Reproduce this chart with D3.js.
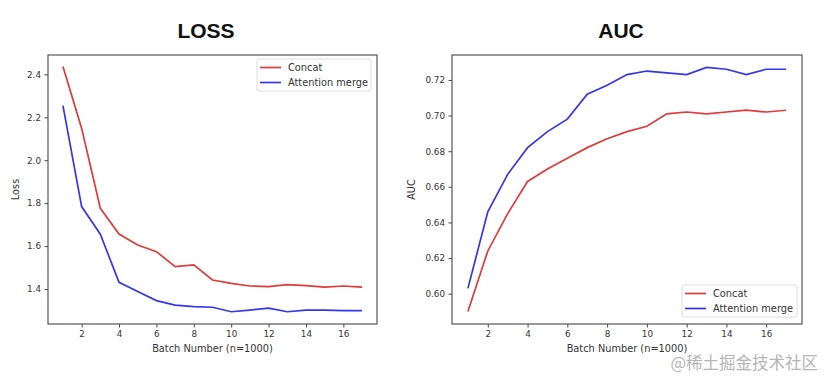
<!DOCTYPE html>
<meta charset="utf-8">
<body style="margin:0;background:#fff">
<script src="https://d3js.org/d3.v7.min.js"></script>
<script>

var W = 832, H = 386;

// data
var batches = d3.range(1, 18);
var lossConcat = [2.436, 2.148, 1.776, 1.656, 1.605, 1.574, 1.504, 1.512, 1.442, 1.426, 1.414, 1.411, 1.420, 1.416, 1.409, 1.414, 1.409];
var lossAttn   = [2.254, 1.784, 1.655, 1.431, 1.388, 1.346, 1.325, 1.318, 1.315, 1.294, 1.302, 1.311, 1.294, 1.302, 1.302, 1.299, 1.299];
var aucConcat  = [0.590, 0.624, 0.645, 0.663, 0.670, 0.676, 0.682, 0.687, 0.691, 0.694, 0.701, 0.702, 0.701, 0.702, 0.703, 0.702, 0.703];
var aucAttn    = [0.603, 0.646, 0.667, 0.682, 0.691, 0.698, 0.712, 0.717, 0.723, 0.725, 0.724, 0.723, 0.727, 0.726, 0.723, 0.726, 0.726];
var seriesNames = ['Concat', 'Attention merge'];
var xTicks = [2, 4, 6, 8, 10, 12, 14, 16];
var lossTicks = [1.4, 1.6, 1.8, 2.0, 2.2, 2.4];
var aucTicks = [0.60, 0.62, 0.64, 0.66, 0.68, 0.70, 0.72];

var RED = '#e03a3a', BLUE = '#3535ee';
var FONT = 'DejaVu Sans, sans-serif';

var svg = d3.select('body').append('svg')
    .attr('width', W)
    .attr('height', H);

var panel = (p) => {
  var g = svg.append('g');
  var x = d3.scaleLinear().domain([0.2, 17.8]).range([p.x0, p.x1]);
  var y = d3.scaleLinear().domain(p.ydom).range([p.y1, p.y0]);

  // title
  g.append('text')
    .text(p.title)
    .attr('x', p.tx).attr('y', 38)
    .attr('text-anchor', 'middle')
    .attr('font-family', 'Liberation Sans, Arial, sans-serif')
    .attr('font-weight', 'bold')
    .attr('font-size', 21)
    .attr('fill', '#111');

  var ax = g.append('g')
    .attr('transform', `translate(0,${p.y1})`)
    .call(d3.axisBottom(x).tickValues(xTicks).tickSize(3.5).tickPadding(3).tickFormat(d3.format('d')));
  var ay = g.append('g')
    .attr('transform', `translate(${p.x0},0)`)
    .call(d3.axisLeft(y).tickValues(p.yticks).tickSize(3.5).tickPadding(3.5).tickFormat(d3.format(p.yfmt)));
  [ax, ay].forEach(a => {
    a.select('.domain').remove();
    a.selectAll('line').attr('stroke', '#444');
    a.selectAll('text').attr('font-family', FONT).attr('font-size', 8.8).attr('fill', '#333');
  });

  var line = d3.line().x((d, i) => x(batches[i])).y(d => y(d));
  [[p.s1, RED], [p.s2, BLUE]].forEach(s => {
    g.append('path')
      .attr('d', line(s[0]))
      .attr('fill', 'none')
      .attr('stroke', s[1])
      .attr('stroke-width', 1.7);
  });

  // frame
  g.append('rect')
    .attr('x', p.x0).attr('y', p.y0)
    .attr('width', p.x1 - p.x0).attr('height', p.y1 - p.y0)
    .attr('fill', 'none')
    .attr('stroke', '#555')
    .attr('stroke-width', 1.2);

  g.append('text')
    .text('Batch Number (n=1000)')
    .attr('x', (p.x0 + p.x1) / 2).attr('y', 352)
    .attr('text-anchor', 'middle')
    .attr('font-family', FONT).attr('font-size', 9.8).attr('fill', '#333');
  g.append('text')
    .text(p.ylabel)
    .attr('transform', `translate(${p.lx},${(p.y0 + p.y1) / 2}) rotate(-90)`)
    .attr('text-anchor', 'middle')
    .attr('font-family', FONT).attr('font-size', 9.8).attr('fill', '#333');

  // legend
  var lg = g.append('g').attr('transform', `translate(${p.legx},${p.legy})`);
  lg.append('rect')
    .attr('width', p.legw).attr('height', 32)
    .attr('rx', 2)
    .attr('fill', '#fff').attr('fill-opacity', 0.8)
    .attr('stroke', '#ddd');
  seriesNames.forEach((n, i) => {
    lg.append('line')
      .attr('x1', 3).attr('x2', 24)
      .attr('y1', 8.5 + i * 15).attr('y2', 8.5 + i * 15)
      .attr('stroke', i ? BLUE : RED).attr('stroke-width', 1.7);
    lg.append('text')
      .text(n)
      .attr('x', 31).attr('y', 12 + i * 15)
      .attr('font-family', FONT).attr('font-size', 9.8).attr('fill', '#333');
  });
}

panel({
  title: 'LOSS', tx: 206, x0: 48, x1: 377, y0: 55, y1: 324,
  ydom: [1.237, 2.49], yticks: lossTicks, yfmt: '.1f', ylabel: 'Loss', lx: 19,
  s1: lossConcat, s2: lossAttn, legx: 257, legy: 59, legw: 114
});
panel({
  title: 'AUC', tx: 621, x0: 452, x1: 802, y0: 55, y1: 324,
  ydom: [0.583, 0.734], yticks: aucTicks, yfmt: '.2f', ylabel: 'AUC', lx: 415,
  s1: aucConcat, s2: aucAttn, legx: 682, legy: 285, legw: 115
});

// watermark
svg.append('text')
  .text('@稀土掘金技术社区')
  .attr('x', 818).attr('y', 369)
  .attr('text-anchor', 'end')
  .attr('font-family', 'Noto Sans CJK SC, sans-serif')
  .attr('font-size', 16.5)
  .attr('fill', '#b5b5b5');

</script>
</body>
</html>
